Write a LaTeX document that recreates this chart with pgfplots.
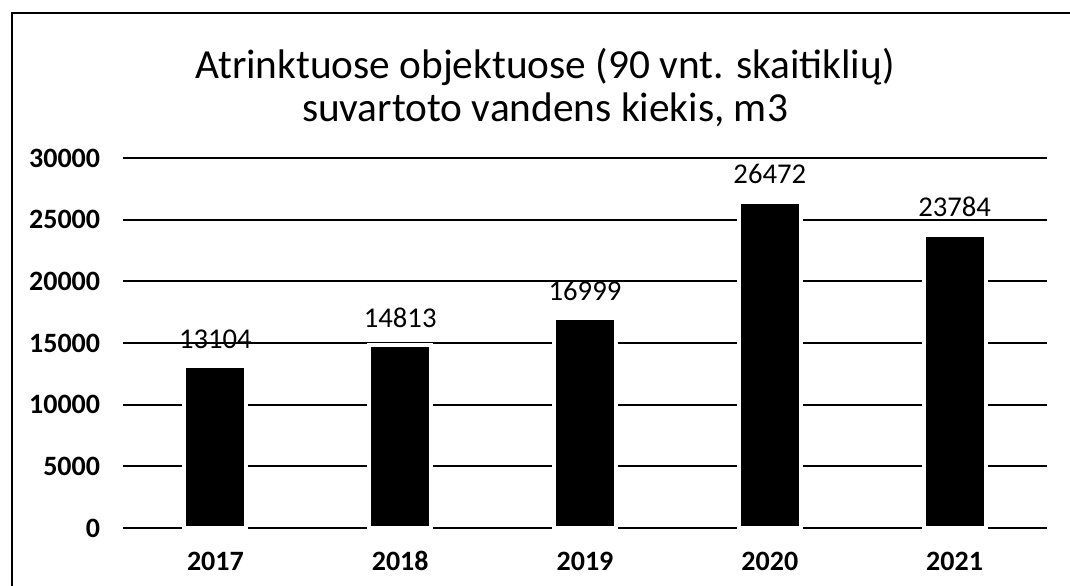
\documentclass[border=0pt]{standalone}
\usepackage{fontspec}
\setmainfont{Carlito}
\usepackage{pgfplots}
\pgfplotsset{compat=1.18}

\pgfplotstableread{
idx year value
0 2017 13104
1 2018 14813
2 2019 16999
3 2020 26472
4 2021 23784
}\usage

\begin{document}
\begin{tikzpicture}
% page = 1070 x 585 px, 1 px = 0.75pt, origin at top left
\useasboundingbox (0,0) rectangle (802.5pt,-438.75pt);
\begin{scope}[x=0.75pt,y=-0.75pt]
  \draw[line width=2.2pt] (12,13) -- (12,590);
  \draw[line width=1.6pt] (11,13) -- (1075,13);
  \node[anchor=base, font=\fontsize{31}{36}\selectfont] at (545,79)
    {Atrinktuose objektuose (90 vnt. skaitiklių)};
  \node[anchor=base, font=\fontsize{31}{36}\selectfont] at (545,121)
    {suvartoto vandens kiekis, m3};
\end{scope}
\begin{axis}[
  at={(92.25pt,-396pt)}, anchor=south west,
  scale only axis,
  width=693pt, height=277.5pt,
  xmin=-0.5, xmax=4.5,
  ymin=0, ymax=30000,
  ytick={0,5000,...,30000},
  xtick=data,
  xticklabels={2017,2018,2019,2020,2021},
  axis line style={draw=none},
  major tick style={draw=none},
  ymajorgrids=true,
  major grid style={black, line width=1.4pt},
  /pgf/number format/assume math mode=true,
  scaled y ticks=false,
  yticklabel={\pgfmathprintnumber[fixed,1000 sep={}]{\tick}},
  tick label style={font=\fontsize{21}{25}\selectfont\bfseries, inner sep=0pt},
  yticklabel style={anchor=east, xshift=-17pt},
  xticklabel style={anchor=base, yshift=-27.5pt},
  ybar, bar width=46.5pt, bar shift=0pt,
  nodes near coords,
  every node near coord/.append style={font=\fontsize{21.5}{25}\selectfont, inner sep=0pt, yshift=12pt,
    /pgf/number format/.cd, fixed, 1000 sep={}, assume math mode=true},
  clip=false,
]
\addplot[fill=black, draw=white, line width=3pt] table[x=idx, y=value] {\usage};
\end{axis}
\end{tikzpicture}
\end{document}
